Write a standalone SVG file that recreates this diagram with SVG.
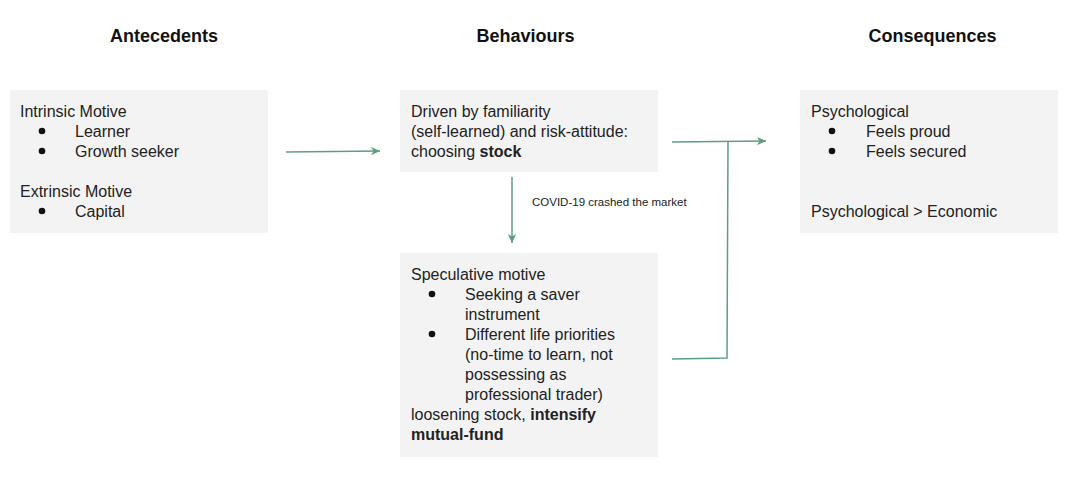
<svg xmlns="http://www.w3.org/2000/svg" width="1068" height="483" viewBox="0 0 1068 483">
<style>
.box{fill:#f3f3f3}
.t{font-family:"Liberation Sans",Arial,sans-serif;font-size:16px;fill:#222}
.b{font-weight:bold}
.h{font-family:"Liberation Sans",Arial,sans-serif;font-size:18px;font-weight:bold;fill:#111;text-anchor:middle}
.lbl{font-family:"Liberation Sans",Arial,sans-serif;font-size:11.5px;fill:#222}
.c{fill:none;stroke:#5e9e80;stroke-width:1.5}
.dot{fill:#111}
</style>
<defs>
<marker id="ah" markerWidth="10" markerHeight="10" refX="9" refY="5" orient="auto" markerUnits="userSpaceOnUse">
<path d="M0,0.8 L9,5 L0,9.2 L2.5,5 Z" fill="#5e9e80"/>
</marker>
</defs>
<rect width="1068" height="483" fill="#ffffff"/>
<text class="h" x="164" y="42">Antecedents</text>
<text class="h" x="525.5" y="42">Behaviours</text>
<text class="h" x="932.5" y="42">Consequences</text>

<g id="antecedents">
<rect class="box" x="10" y="90" width="258" height="143"/>
<text class="t" x="20" y="117">Intrinsic Motive</text>
<circle class="dot" cx="42" cy="131" r="3.3"/>
<text class="t" x="75" y="137">Learner</text>
<circle class="dot" cx="42" cy="151" r="3.3"/>
<text class="t" x="75" y="157">Growth seeker</text>
<text class="t" x="20" y="197">Extrinsic Motive</text>
<circle class="dot" cx="42" cy="211" r="3.3"/>
<text class="t" x="75" y="217">Capital</text>
</g>

<g id="behaviour-stock">
<rect class="box" x="400" y="90" width="258" height="82"/>
<text class="t" x="411" y="117">Driven by familiarity</text>
<text class="t" x="411" y="137">(self-learned) and risk-attitude:</text>
<text class="t" x="411" y="157">choosing <tspan class="b">stock</tspan></text>
</g>

<g id="behaviour-mutualfund">
<rect class="box" x="400" y="253" width="258" height="204"/>
<text class="t" x="411" y="280">Speculative motive</text>
<circle class="dot" cx="432" cy="294" r="3.3"/>
<text class="t" x="465" y="300">Seeking a saver</text>
<text class="t" x="465" y="320">instrument</text>
<circle class="dot" cx="432" cy="334" r="3.3"/>
<text class="t" x="465" y="340">Different life priorities</text>
<text class="t" x="465" y="360">(no-time to learn, not</text>
<text class="t" x="465" y="380">possessing as</text>
<text class="t" x="465" y="400">professional trader)</text>
<text class="t" x="411" y="420">loosening stock, <tspan class="b">intensify</tspan></text>
<text class="t b" x="411" y="440">mutual-fund</text>
</g>

<g id="consequences">
<rect class="box" x="800" y="90" width="258" height="143"/>
<text class="t" x="811" y="117">Psychological</text>
<circle class="dot" cx="832" cy="131" r="3.3"/>
<text class="t" x="866" y="137">Feels proud</text>
<circle class="dot" cx="832" cy="151" r="3.3"/>
<text class="t" x="866" y="157">Feels secured</text>
<text class="t" x="811" y="217">Psychological &gt; Economic</text>
</g>

<g id="connectors">
<path class="c" d="M286,152 L380,151" marker-end="url(#ah)"/>
<path class="c" d="M512,177 L512,243" marker-end="url(#ah)"/>
<text class="lbl" x="532" y="206">COVID-19 crashed the market</text>
<path class="c" d="M672,142 L766,141" marker-end="url(#ah)"/>
<path class="c" d="M728,142 L727,358 L672,359"/>
</g>
</svg>
